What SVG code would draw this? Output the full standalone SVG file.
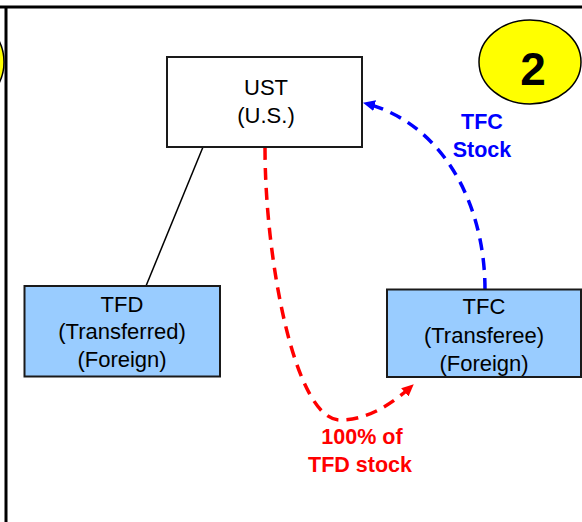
<svg xmlns="http://www.w3.org/2000/svg" width="582" height="522" viewBox="0 0 582 522">
<style>
.box{stroke:#1a1a1a;stroke-width:2}
.blue{fill:#99CCFF}
.t{font-family:"Liberation Sans",Arial,sans-serif;font-size:22px;fill:#000;text-anchor:middle}
.lbl{font-family:"Liberation Sans",Arial,sans-serif;font-size:21.5px;font-weight:bold;text-anchor:middle}
</style>
<defs>
<marker id="ab" markerWidth="12" markerHeight="11" refX="11" refY="5.5" orient="auto" markerUnits="userSpaceOnUse" viewBox="0 0 12 11"><path d="M0,0 L12,5.5 L0,11 z" fill="#0000FF"/></marker>
<marker id="ar" markerWidth="12" markerHeight="11" refX="11" refY="5.5" orient="auto" markerUnits="userSpaceOnUse" viewBox="0 0 12 11"><path d="M0,0 L12,5.5 L0,11 z" fill="#FF0000"/></marker>
</defs>
<rect width="582" height="522" fill="#fff"/>
<g id="frame">
<line x1="0" y1="7" x2="582" y2="7" stroke="#000" stroke-width="3"/>
<line x1="6" y1="7" x2="6" y2="522" stroke="#000" stroke-width="3"/>
<ellipse cx="-46" cy="62" rx="50" ry="48" fill="#FFFF00" stroke="#000" stroke-width="1.5"/>
</g>
<g id="badge">
<ellipse cx="530" cy="62" rx="51" ry="42" fill="#FFFF00" stroke="#000" stroke-width="1.5"/>
<text x="533" y="85" font-family="Liberation Sans,Arial,sans-serif" font-size="46" font-weight="bold" text-anchor="middle">2</text>
</g>
<g id="connectors" fill="none">
<line x1="203" y1="147" x2="146" y2="286" stroke="#000" stroke-width="1.5"/>
<path d="M265,148 C265,260 295,420 340,420 C368,420 392,404 413,385" stroke="#FF0000" stroke-width="3.5" stroke-dasharray="12 8" marker-end="url(#ar)"/>
<path d="M485,290 C485,200 440,122 364,103" stroke="#0000FF" stroke-width="3.5" stroke-dasharray="12 8" marker-end="url(#ab)"/>
</g>
<g id="UST">
<rect x="167" y="57" width="195" height="90" fill="#fff" class="box"/>
<text class="t" x="266" y="95">UST</text>
<text class="t" x="266" y="123">(U.S.)</text>
</g>
<g id="TFD">
<rect x="24.5" y="286" width="195.5" height="90.5" class="box blue"/>
<text class="t" x="122" y="312">TFD</text>
<text class="t" x="122" y="339">(Transferred)</text>
<text class="t" x="122" y="367">(Foreign)</text>
</g>
<g id="TFC">
<rect x="387" y="289.5" width="194" height="87.5" class="box blue"/>
<text class="t" x="484" y="314">TFC</text>
<text class="t" x="484" y="343">(Transferee)</text>
<text class="t" x="484" y="371">(Foreign)</text>
</g>
<g id="labels">
<text class="lbl" x="482" y="129" fill="#0000FF">TFC</text>
<text class="lbl" x="482" y="157" fill="#0000FF">Stock</text>
<text class="lbl" x="362" y="444" fill="#FF0000">100% of</text>
<text class="lbl" x="360" y="472" fill="#FF0000">TFD stock</text>
</g>
</svg>
